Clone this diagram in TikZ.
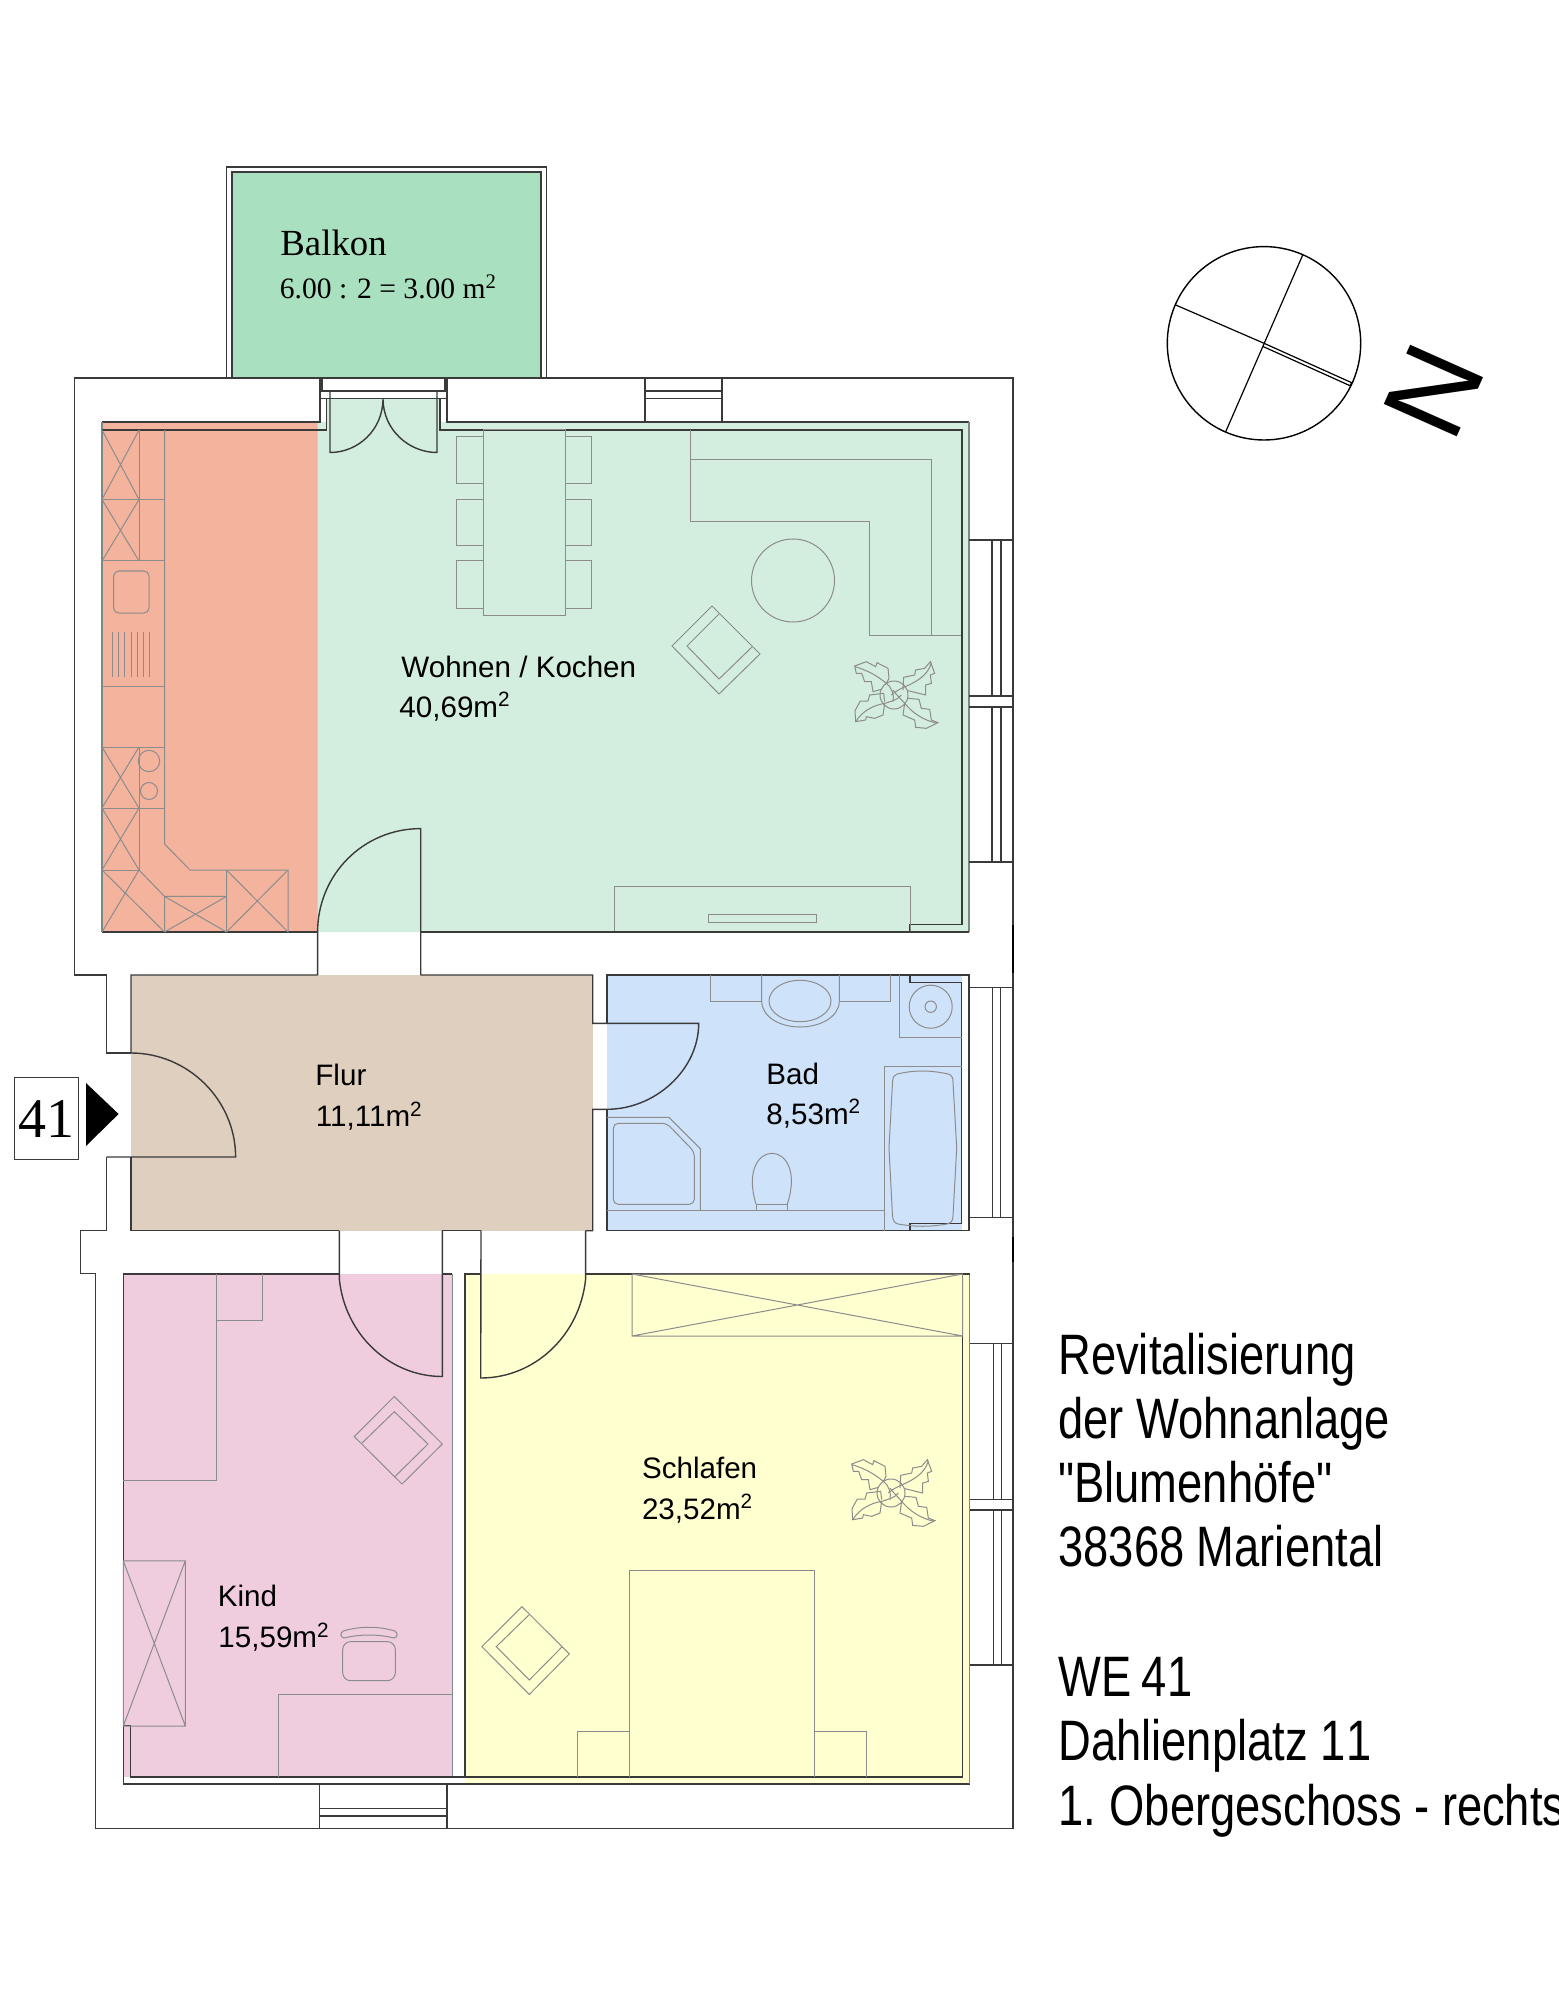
\documentclass[tikz,border=0pt]{standalone}
\usepackage{fontspec}
\setmainfont{Liberation Sans}
\newfontfamily\serifF{Liberation Serif}
\newfontfamily\narrowF[FakeStretch=0.795]{Liberation Sans}
\definecolor{cBalk}{HTML}{A9E0C0}
\definecolor{cWohn}{HTML}{D3EEDF}
\definecolor{cKoch}{HTML}{F3B39D}
\definecolor{cFlur}{HTML}{DFCFBE}
\definecolor{cBad}{HTML}{CEE2FA}
\definecolor{cKind}{HTML}{EFCDDF}
\definecolor{cSchl}{HTML}{FFFFD0}
\definecolor{cWall}{HTML}{3A3A3A}
\definecolor{cMob}{HTML}{8C8C8C}
\definecolor{cSoft}{HTML}{7A8A82}
\tikzset{
  wall/.style={draw=cWall,line width=0.7pt,line join=miter},
  softwall/.style={draw=cSoft,line width=0.7pt},
  mob/.style={draw=cMob,line width=0.5pt},
  room/.style={anchor=base west,inner sep=0pt,font=\fontsize{14.8}{17}\selectfont,text=black},
  sidetext/.style={anchor=base west,inner sep=0pt,font=\narrowF\fontsize{28.5}{34}\selectfont,text=black},
}
\newcommand{\plantat}[2]{%
\begin{scope}[shift={(#1,#2)},x=0.16667pt,y=-0.16667pt,shift={(-163,-165)}]
\draw[mob] (163,165) circle (42);
\draw[mob] (140,130)--(148,115)--(145,85)--(112,68)--(108,80)--(80,65)--(45,78)--(50,100)--(66,100)--(75,125)--(95,125)--(100,155)--(125,148);
\draw[mob] (46,80) .. controls (80,90) and (110,105) .. (140,130) .. controls (155,140) and (165,165) .. (160,185);
\draw[mob] (190,150)--(192,112)--(225,105)--(228,90)--(255,85)--(272,65)--(285,100)--(272,105)--(275,130)--(258,135)--(258,165)--(205,152);
\draw[mob] (275,68) .. controls (265,110) and (220,130) .. (192,142) .. controls (180,148) and (165,155) .. (155,165);
\draw[mob] (195,190)--(190,225)--(225,240)--(228,262)--(260,265)--(295,248)--(275,240)--(270,208)--(245,205)--(238,178)--(205,175);
\draw[mob] (292,250) .. controls (250,240) and (220,220) .. (195,190) .. controls (185,178) and (170,165) .. (160,150);
\draw[mob] (135,185)--(132,160)--(90,165)--(85,183)--(62,183)--(46,212)--(48,245)--(78,240)--(80,230)--(105,235)--(130,225)--(135,190);
\draw[mob] (48,245) .. controls (70,210) and (105,195) .. (135,190) .. controls (150,185) and (175,180) .. (185,165);
\end{scope}}
\begin{document}
\begin{tikzpicture}[x=0.5pt,y=-0.5pt]
\useasboundingbox (0,0) rectangle (1558,2005);
% room fills
\fill[cBalk] (232,172) rectangle (541,378);
\fill[cKoch] (102,422) rectangle (317.6,932);
\fill[cWohn] (317.6,932)--(317.6,422)--(326.5,422)--(326.5,398.5)--(440,398.5)--(440,422)--(969,422)--(969,932)--cycle;
\fill[cFlur] (131,975) rectangle (593,1230.7);
\fill[cBad] (607,975) rectangle (961.7,1230.7);
\fill[cKind] (123.3,1274) rectangle (452.3,1777);
\fill[cSchl] (465,1274) rectangle (969.6,1784);
% outer walls
\draw[wall] (74.3,975)--(74.3,378)--(1013,378)--(1013,1828.6)--(95.6,1828.6)--(95.6,1273.3)--(80.6,1273.3)--(80.6,1230.7)--(106.7,1230.7)--(106.7,1157);
\draw[wall] (131,1053)--(106.7,1053)--(106.7,975)--(74.3,975);
\draw[draw=black,line width=1pt] (1013,925)--(1013,973) (1013,1237)--(1013,1262);
% balcony
\draw[wall] (226.5,378)--(226.5,167)--(546.6,167)--(546.6,378);
\draw[wall] (232,378)--(232,172)--(541,172)--(541,378);
% balcony door
\draw[wall] (320,378)--(320,422)--(102,422);
\draw[softwall] (102,422)--(102,932);
\draw[wall] (102,932)--(317.6,932);
\draw[wall] (447,378)--(447,422)--(969,422);
\draw[softwall] (969,422)--(969,932);
\draw[wall] (969,932)--(420.7,932);
\draw[wall] (322,378)--(322,390) (445,378)--(445,390);
\draw[wall] (320,391)--(447,391) (320,398.5)--(447,398.5);
\draw[wall] (326.5,398.5)--(326.5,430)--(102,430);
\draw[wall] (440,398.5)--(440,430)--(962,430)--(962,924.4)--(910,924.4)--(910,931);
\draw[wall] (330,391)--(330,452.5) .. controls (358,452.5) and (383,430) .. (383,398.5) .. controls (383,430) and (409,452.5) .. (437,452.5)--(437,391);
% top window
\draw[wall] (645,378)--(645,422) (722,378)--(722,422) (645,391)--(722,391) (645,398.5)--(722,398.5);
% right windows
\draw[wall] (969,540)--(1013,540) (969,696)--(1013,696) (969,707)--(1013,707) (969,862)--(1013,862);
\draw[wall] (992,540)--(992,696) (1001,540)--(1001,696) (992,707)--(992,862) (1001,707)--(1001,862);
\draw[wall] (969,987.7)--(1013,987.7) (969,1217.7)--(1013,1217.7) (992.3,987.7)--(992.3,1217.7) (1000.7,987.7)--(1000.7,1217.7);
\draw[wall] (969,1343.5)--(1013,1343.5) (969,1499.5)--(1013,1499.5) (969,1510)--(1013,1510) (969,1665)--(1013,1665);
\draw[wall] (993.3,1343.5)--(993.3,1499.5) (1001.5,1343.5)--(1001.5,1499.5) (993.3,1510)--(993.3,1665) (1001.5,1510)--(1001.5,1665);
% bottom window
\draw[wall] (319.3,1784)--(319.3,1828.6) (447,1784)--(447,1828.6) (319.3,1808.7)--(447,1808.7) (319.3,1816)--(447,1816);
% wohn door
\draw[wall] (317.6,975)--(317.6,932) .. controls (317.6,875) and (363,828.6) .. (420.7,828.6)--(420.7,975);
% flur
\draw[wall] (317.6,975)--(131,975)--(131,1053) .. controls (188,1053) and (235.6,1100) .. (235.6,1157)--(106.7,1157);
\draw[wall] (131,1157)--(131,1230.7)--(339.3,1230.7);
\draw[wall] (420.7,975)--(592.7,975)--(592.7,1023.3)--(698.7,1023.3) .. controls (698.7,1070) and (655,1109.3) .. (607,1109.3)--(592.7,1109.3)--(592.7,1230.7)--(585.6,1230.7);
\draw[wall] (441.5,1230.7)--(481,1230.7);
% bad
\draw[wall] (607,1023.3)--(607,975)--(969,975)--(969,1230.7)--(607,1230.7)--(607,1109.3);
\draw[wall] (961.7,982.7)--(961.7,1223.3);
\draw[wall] (910,975)--(910,982.7)--(961.7,982.7) (910,1230.7)--(910,1223.3)--(961.7,1223.3);
% kind / schlafen doors and walls
\draw[wall] (339.3,1274)--(123.3,1274)--(123.3,1784)--(969.6,1784);
\draw[softwall] (969.6,1784)--(969.6,1274);
\draw[wall] (969.6,1274)--(585.6,1274);
\draw[wall] (442.3,1274)--(452.3,1274);
\draw[softwall] (452.3,1274)--(452.3,1777);
\draw[wall] (123.3,1725.5)--(130.7,1725.5)--(130.7,1777)--(962.6,1777)--(962.6,1274);
\draw[wall] (481,1274)--(465,1274)--(465,1777);
\draw[wall] (339.3,1230.7)--(339.3,1279) .. controls (345,1335) and (390,1376.5) .. (442.3,1376.5)--(442.3,1230.7);
\draw[wall] (585.6,1230.7)--(585.6,1279) .. controls (580,1335) and (535,1378) .. (480.7,1378)--(481,1230.7);
% kitchen
\draw[mob] (164.5,430)--(164.5,844)--(190,870)--(288,870)--(288,932);
\draw[mob] (139,430)--(139,561) (102,499.5)--(164.5,499.5) (102,561)--(164.5,561) (102,686)--(164.5,686) (102,747)--(164.5,747) (102,808)--(164.5,808) (102,870)--(139,870) (139,747)--(139,870);
\draw[mob] (102,430)--(139,499.5) (139,430)--(102,499.5) (102,499.5)--(139,561) (139,499.5)--(102,561);
\draw[mob] (102,747)--(139,808) (139,747)--(102,808) (102,808)--(139,870) (139,808)--(102,870);
\draw[mob] (102,870)--(164.5,932) (139,870)--(102,932) (139,870)--(164.5,896.4)--(164.5,932);
\draw[mob] (164.5,896.4)--(226.5,896.4) (164.5,896.4)--(226.5,932) (226.5,896.4)--(164.5,932) (226.5,870)--(226.5,932);
\draw[mob] (226.5,870)--(288,932) (288,870)--(226.5,932);
\draw[mob,rounded corners=2.5pt] (113.6,571) rectangle (149,613);
\foreach \hx in {112.7,118.8,124.9,131,137.1,143.2,149.3} \draw[mob] (\hx,632)--(\hx,676.5);
\draw[mob] (149,761) circle (10.7) (149,791) circle (8.5);
% dining
\draw[mob] (483,430) rectangle (565,615);
\draw[mob] (483,437) rectangle (456.4,484) (483,499.5) rectangle (456.4,545.4) (483,561) rectangle (456.4,608);
\draw[mob] (565,437) rectangle (591,484) (565,499.5) rectangle (591,545.4) (565,561) rectangle (591,608);
% sofa, table
\draw[mob] (690,430)--(690,522)--(869,522)--(869,635)--(961,635);
\draw[mob] (690,460)--(931,460)--(931,635);
\draw[mob] (793,580.5) circle (41.5);
% armchair wohnen
\draw[mob] (672,646)--(712,606)--(760,654)--(719,694)--cycle;
\draw[mob] (719,614)--(687,646)--(719,679)--(752,647);
\plantat{894}{695}
% tv
\draw[mob] (614,931)--(614,886)--(910,886)--(910,931);
\draw[mob] (708,914) rectangle (816,922.5);
% bad furniture
\draw[mob] (710,975)--(710,1001)--(761.7,1001) (839.3,1001)--(890.7,1001)--(890.7,975);
\draw[mob] (761.7,975)--(761.7,1001) .. controls (761.7,1017) and (780,1027) .. (800,1027) .. controls (820,1027) and (839.3,1017) .. (839.3,1001)--(839.3,975);
\draw[mob] (800,1001) ellipse (31 and 20.7);
\draw[mob] (899,975)--(899,1037)--(961.7,1037);
\draw[mob] (930.7,1006.7) circle (21.5) (930.7,1006.7) circle (5.7);
\draw[mob] (884,1230.7)--(884,1066)--(961.7,1066);
\draw[mob] (897,1074) .. controls (915,1070) and (930,1070) .. (948,1074) .. controls (952,1075) and (953,1078) .. (953,1082)--(956.7,1148)--(953,1216) .. controls (953,1221) and (951,1223) .. (947,1224) .. controls (930,1227) and (915,1227) .. (898,1224) .. controls (894,1223) and (893,1220) .. (892.5,1216)--(889,1148)--(892.5,1082) .. controls (893,1077) and (894,1075) .. (897,1074)--cycle;
\draw[mob] (607,1117.3)--(669,1117.3)--(700.3,1148.7)--(700.3,1210);
\draw[mob,rounded corners=2.5pt] (613.3,1123.3)--(666.7,1123.3)--(694.3,1151.7)--(694.3,1204.3)--(613.3,1204.3)--cycle;
\draw[mob] (607,1210)--(884,1210);
\draw[mob] (756,1210)--(756,1204)--(787.3,1204)--(787.3,1210);
\draw[mob] (756,1204) .. controls (746,1172) and (758,1153.3) .. (772,1153.3) .. controls (786,1153.3) and (798,1172) .. (787.3,1204);
% kind furniture
\draw[mob] (123.3,1480.3)--(216.3,1480.3)--(216.3,1274);
\draw[mob] (216.3,1320)--(262.3,1320)--(262.3,1274);
\draw[mob] (354.3,1436.6)--(394.3,1396.4)--(442.3,1444)--(402,1484)--cycle;
\draw[mob] (362,1443)--(394.3,1411.7)--(428,1444)--(395,1476.5);
\draw[mob] (123.3,1560.8) rectangle (185.3,1726) (123.3,1560.8)--(185.3,1726) (185.3,1560.8)--(123.3,1726);
\draw[mob] (278.3,1777)--(278.3,1694.5)--(452.3,1694.5);
\draw[mob,rounded corners=4pt] (342.7,1641.6) rectangle (395.3,1680.7);
\draw[mob] (343,1631) .. controls (360,1626) and (378,1626) .. (395,1631) .. controls (398,1633) and (398,1637) .. (394,1638) .. controls (378,1634) and (360,1634) .. (344,1638) .. controls (340,1637) and (340,1633) .. (343,1631)--cycle;
% schlafen furniture
\draw[mob] (632,1274) rectangle (962.6,1336) (632,1274)--(962.6,1336) (962.6,1274)--(632,1336);
\draw[mob] (629.6,1777)--(629.6,1570.7)--(814.8,1570.7)--(814.8,1777);
\draw[mob] (577.4,1777)--(577.4,1731)--(629.6,1731) (814.8,1731)--(866.7,1731)--(866.7,1777);
\draw[mob] (481.9,1646.6)--(521.9,1606.7)--(569.3,1653.9)--(529.3,1694.5)--cycle;
\draw[mob] (528.9,1615)--(496.3,1646.6)--(529.3,1680)--(561.9,1647);
\plantat{891}{1493}
% entrance label
\node[draw=cWall,line width=0.5pt,minimum width=32pt,minimum height=41pt,inner sep=0pt] (lblbox) at (46.2,1118) {};
\node[anchor=base,inner sep=0pt,font=\serifF\fontsize{28}{30}\selectfont] (lbl) at (46.2,1137) {41};
\fill[black] (86,1083)--(118.6,1114)--(86,1146)--cycle;
% compass
\draw[draw=black,line width=0.7pt] (1264,343.3) circle (96.7);
\draw[draw=black,line width=0.6pt] (1302.7,255)--(1225.7,431.7);
\draw[draw=black,line width=0.6pt] (1175.7,305)--(1264,343.3)--(1351.7,382.7)--(1350,385.7)--(1263,346.5);
\node[rotate=-114,inner sep=0pt,font=\fontsize{58}{64}\selectfont] (north) at (1434,391) {N};
% room labels
\node[font=\serifF\fontsize{18.4}{20}\selectfont,anchor=base west,inner sep=0pt] (tb1) at (280,256) {Balkon};
\node[font=\serifF\fontsize{14.8}{18}\selectfont,anchor=base west,inner sep=0pt] (tb2) at (279.5,299) {6.00 : 2 = 3.00 m\textsuperscript{2}};
\node[room] (tw1) at (401,677) {Wohnen / Kochen};
\node[room] (tw2) at (399,717) {40,69m\textsuperscript{2}};
\node[room] (tf1) at (315,1085.7) {Flur};
\node[room] (tf2) at (315.5,1126.7) {11,11m\textsuperscript{2}};
\node[room] (tbd1) at (766,1084) {Bad};
\node[room] (tbd2) at (766,1124) {8,53m\textsuperscript{2}};
\node[room] (tk1) at (217.5,1606.7) {Kind};
\node[room] (tk2) at (218,1647.7) {15,59m\textsuperscript{2}};
\node[room] (ts1) at (641.6,1478.4) {Schlafen};
\node[room] (ts2) at (641.6,1519.3) {23,52m\textsuperscript{2}};
% side text
\node[sidetext] (s1) at (1058,1374) {Revitalisierung};
\node[sidetext] (s2) at (1058,1438) {der Wohnanlage};
\node[sidetext] (s3) at (1058,1502) {"Blumenhöfe"};
\node[sidetext] (s4) at (1058,1566) {38368 Mariental};
\node[sidetext] (s5) at (1058,1696) {WE\kern-1pt{} 41};
\node[sidetext] (s6) at (1058,1760) {Dahlienplatz 1\kern.7pt{}1};
\node[sidetext] (s7) at (1058,1825) {1.\kern-1.7pt{} Obergeschoss - rechts};
\end{tikzpicture}
\end{document}
